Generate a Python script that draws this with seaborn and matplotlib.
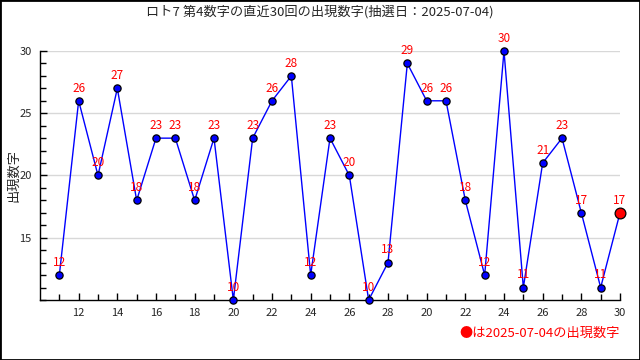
import numpy as np
import pandas as pd
import matplotlib
matplotlib.use("Agg")
import matplotlib.pyplot as plt
import seaborn as sns
from matplotlib.ticker import MultipleLocator, FixedLocator

# data (30 draws, oldest first)
numbers = [12, 26, 20, 27, 18, 23, 23, 18, 23, 10,
           23, 26, 28, 12, 23, 20, 10, 13, 29, 26,
           26, 18, 12, 30, 11, 21, 23, 17, 11, 17]
tick_labels = ["12", "14", "16", "18", "20", "22", "24", "26", "28",
               "20", "22", "24", "26", "28", "30"]
title = "ロト7 第4数字の直近30回の出現数字(抽選日：2025-07-04)"
note = "●は2025-07-04の出現数字"

df = pd.DataFrame({"idx": np.arange(len(numbers)), "num": numbers})

sns.set_theme(style="white")
plt.rcParams["font.family"] = ["Noto Sans CJK JP", "DejaVu Sans"]

fig = plt.figure(figsize=(6.4, 3.6), dpi=100)
ax = fig.add_axes([40 / 640, 60 / 360, 580 / 640, 249 / 360])

sns.lineplot(data=df, x="idx", y="num", ax=ax, color="blue", lw=1,
             marker="o", markersize=5.2, markerfacecolor="blue",
             markeredgecolor="black", markeredgewidth=0.9, clip_on=False, zorder=3)
last = df.iloc[[-1]]
sns.scatterplot(data=last, x="idx", y="num", ax=ax, color="red", s=60,
                edgecolor="black", linewidth=0.9, clip_on=False, zorder=4)

for i, v in zip(df["idx"], df["num"]):
    ax.text(i, v + 0.5, str(v), color="red", fontsize=8.5, ha="center",
            va="bottom", zorder=5)

ax.set_xlim(-1, len(numbers) - 1)
ax.set_ylim(10, 30)
ax.xaxis.set_major_locator(FixedLocator(np.arange(1, len(numbers), 2)))
ax.set_xticklabels(tick_labels)
ax.xaxis.set_minor_locator(FixedLocator(np.arange(0, len(numbers), 2)))
ax.yaxis.set_major_locator(FixedLocator([15, 20, 25, 30]))
ax.yaxis.set_minor_locator(MultipleLocator(1))
ax.tick_params(axis="both", which="major", direction="in", length=5,
               width=1, color="black", labelsize=8, pad=6)
ax.tick_params(axis="both", which="minor", direction="in", length=4,
               width=1, color="black")
ax.tick_params(axis="both", which="both", bottom=True, left=True)

ax.grid(axis="y", which="major", color="#d8d8d8", lw=1)
ax.set_axisbelow(True)
for s in ["top", "right"]:
    ax.spines[s].set_visible(False)
for s in ["left", "bottom"]:
    ax.spines[s].set_color("black")
    ax.spines[s].set_linewidth(1)

ax.set_xlabel("")
ax.set_ylabel("出現数字", fontsize=9.5)
ax.yaxis.set_label_coords(-20 / 580, 0.5)

fig.text(0.5, 1 - 12 / 360, title, ha="center", va="center", fontsize=9.5)
fig.text(620 / 640, 1 - 333 / 360, note, ha="right", va="center",
         fontsize=9.5, color="red")

fig.patches.append(plt.Rectangle((0, 0), 1, 1, transform=fig.transFigure,
                                 fill=False, edgecolor="black", lw=2))

fig.savefig("out.png", dpi=100)
